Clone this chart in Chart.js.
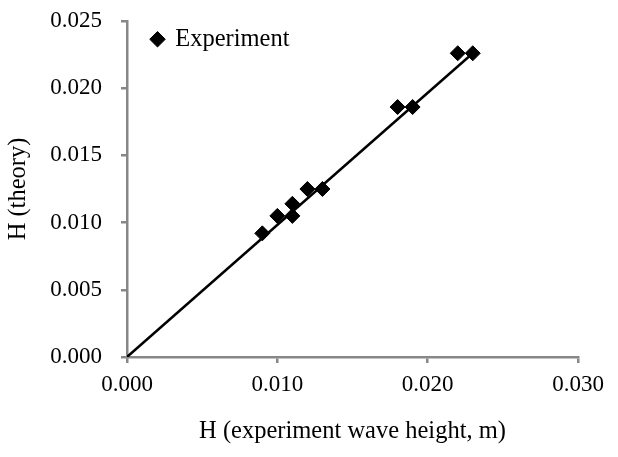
<!DOCTYPE html>
<html>
<head>
<meta charset="utf-8">
<script src="https://cdn.jsdelivr.net/npm/chart.js@4/dist/chart.umd.min.js"></script>
<style>
    html, body { margin: 0; padding: 0; background: #fff; }
    #wrap { width: 618px; height: 457px; }
</style>
</head>
<body>
<div id="wrap"><canvas id="waveChart" width="618" height="457"></canvas></div>
<script>
// measured vs theory wave heights
const expHeight = [0.009, 0.010, 0.011, 0.011, 0.012, 0.013, 0.018, 0.019, 0.022, 0.023];
const theoryHeight = [0.0092, 0.0105, 0.0114, 0.0105, 0.0125, 0.0125, 0.0186, 0.0186, 0.0226, 0.0226];

// fitted line through the origin
const fitX = [0, 0.023];
const fitY = [0, 0.0226];

const xTicks = [0.000, 0.010, 0.020, 0.030];
const yTicks = [0.000, 0.005, 0.010, 0.015, 0.020, 0.025];

const axisGray = '#878787';
const serif = "'Liberation Serif', 'Times New Roman', serif";
const tickSize = 23;
const titleSize = 24.5;

const points = expHeight.map((x, i) => ({x: x, y: theoryHeight[i]}));
const fitLine = fitX.map((x, i) => ({x: x, y: fitY[i]}));

// put the legend in the upper left corner of the plot
const legendNudge = {
    id: 'legendNudge',
    afterLayout(chart) {
        const lg = chart.legend;
        if (!lg) return;
        const w = lg.width, h = lg.height;
        lg.left = chart.chartArea.left + 19;
        lg.top = chart.chartArea.top;
        lg.right = lg.left + w;
        lg.bottom = lg.top + h;
    }
};

const ctx = document.getElementById('waveChart').getContext('2d');
new Chart(ctx, {
    type: 'scatter',
    data: {
        datasets: [
            {
                label: 'Experiment',
                data: points,
                pointStyle: 'rectRot',
                pointRadius: 7.5,
                pointBackgroundColor: '#000',
                pointBorderColor: '#000',
                pointBorderWidth: 1,
                showLine: false
            },
            {
                label: 'fit',
                data: fitLine,
                showLine: true,
                borderColor: '#000',
                borderWidth: 2.5,
                pointRadius: 0,
                fill: false
            }
        ]
    },
    options: {
        responsive: false,
        animation: false,
        layout: {padding: {left: 0, right: 40, top: 21, bottom: 0}},
        plugins: {
            legend: {
                position: 'chartArea',
                align: 'start',
                labels: {
                    filter: (item) => item.text === 'Experiment',
                    usePointStyle: true,
                    boxWidth: 11,
                    boxHeight: 11,
                    padding: 6,
                    color: '#000',
                    font: {family: serif, size: titleSize}
                }
            },
            tooltip: {enabled: false}
        },
        scales: {
            x: {
                type: 'linear',
                min: 0,
                max: 0.03,
                afterBuildTicks: (scale) => { scale.ticks = xTicks.map(v => ({value: v})); },
                afterFit: (scale) => { scale.height = 100; },
                ticks: {
                    padding: 8,
                    color: '#000',
                    font: {family: serif, size: tickSize},
                    maxRotation: 0,
                    callback: (v) => v.toFixed(3)
                },
                grid: {drawOnChartArea: false, drawTicks: true, tickLength: 6, color: axisGray, lineWidth: 2.5},
                border: {display: true, color: axisGray, width: 2.5},
                title: {
                    display: true,
                    text: 'H (experiment wave height, m)',
                    color: '#000',
                    font: {family: serif, size: titleSize},
                    padding: {top: 0, bottom: 11}
                }
            },
            y: {
                type: 'linear',
                min: 0,
                max: 0.025,
                afterBuildTicks: (scale) => { scale.ticks = yTicks.map(v => ({value: v})); },
                afterFit: (scale) => {
                    scale.width = 127;
                    scale.paddingTop = 10;
                    scale.paddingBottom = 10;
                },
                ticks: {
                    padding: 19,
                    color: '#000',
                    font: {family: serif, size: tickSize},
                    callback: (v) => v.toFixed(3)
                },
                grid: {drawOnChartArea: false, drawTicks: true, tickLength: 6, color: axisGray, lineWidth: 2.5},
                border: {display: true, color: axisGray, width: 2.5},
                title: {
                    display: true,
                    text: 'H (theory)',
                    color: '#000',
                    font: {family: serif, size: titleSize},
                    padding: {top: 4, bottom: 0}
                }
            }
        }
    },
    plugins: [legendNudge]
});
</script>
</body>
</html>
